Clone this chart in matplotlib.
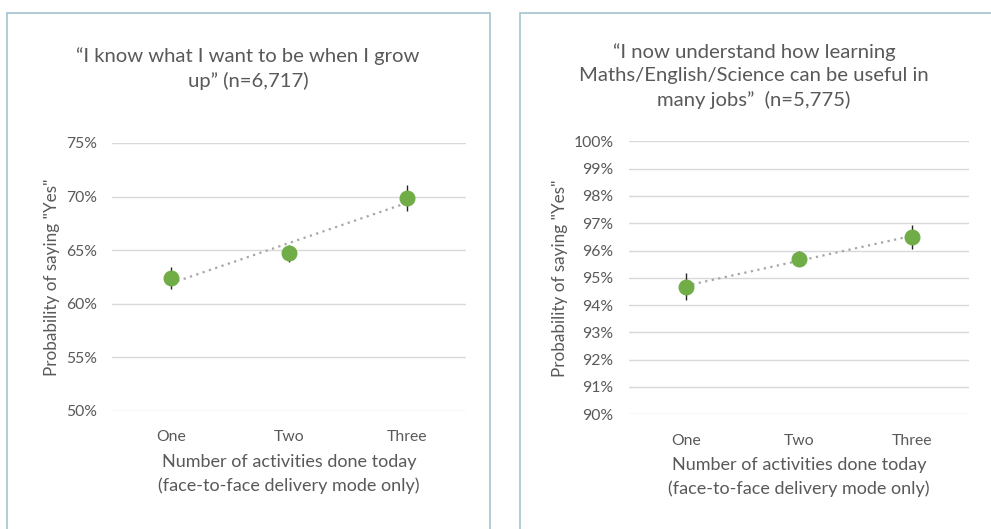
import numpy as np
from matplotlib import pyplot as plt
from matplotlib.patches import Rectangle

plt.rcParams['font.family'] = ['Lato', 'DejaVu Sans']

categories = ['One', 'Two', 'Three']

# left chart: "I know what I want to be when I grow up"
grow_vals = [62.4, 64.7, 69.9]
grow_err = [1.0, 0.8, 1.2]
grow_ticks = [50, 55, 60, 65, 70, 75]

# right chart: "learning ... can be useful in many jobs"
jobs_vals = [94.67, 95.7, 96.5]
jobs_err = [0.5, 0.28, 0.43]
jobs_ticks = [90, 91, 92, 93, 94, 95, 96, 97, 98, 99, 100]

TEXT = '#595959'
GREEN = '#70ad47'
GRID = '#d9d9d9'
BORDER = '#a3c3ce'

W, H = 991, 529
fig = plt.figure(figsize=(W / 100, H / 100), dpi=100)


def px(x0, y0, x1, y1):
    # pixel box (top-left origin) -> figure fraction rect
    return [x0 / W, 1 - y1 / H, (x1 - x0) / W, (y1 - y0) / H]


def draw_panel(rect, title, title_xy, vals, err, ticks):
    ax = fig.add_axes(rect)
    x = np.arange(len(categories))
    # linear trendline, like Excel's
    k, b = np.polyfit(x, vals, 1)
    ax.plot(x, k * x + b, ls=(0, (1, 2)), color='#a6a6a6', lw=1.6, zorder=2)
    ax.errorbar(x, vals, yerr=err, fmt='o', color=GREEN, ms=10.5,
                ecolor='#262626', elinewidth=1, capsize=0, zorder=3)
    ax.set_xlim(-0.5, 2.5)
    ax.set_ylim(ticks[0], ticks[-1])
    ax.set_yticks(ticks)
    ax.set_yticklabels([f'{t}%' for t in ticks])
    ax.set_xticks(x)
    ax.set_xticklabels(categories)
    ax.tick_params(length=0, colors=TEXT, labelsize=11.3)
    ax.tick_params(axis='y', pad=11)
    ax.tick_params(axis='x', pad=14)
    ax.grid(axis='y', color=GRID, lw=1)
    ax.set_axisbelow(True)
    for s in ax.spines.values():
        s.set_visible(False)
    ax.set_ylabel('Probability of saying "Yes"', color=TEXT, fontsize=12.3)
    ax.set_xlabel('Number of activities done today\n(face-to-face delivery mode only)',
                  color=TEXT, fontsize=13, linespacing=1.5, labelpad=7)
    fig.text(title_xy[0] / W, 1 - title_xy[1] / H, title, ha='center', va='top',
             color=TEXT, fontsize=14.6, linespacing=1.45)
    return ax


# panel borders
fig.patches.append(Rectangle((7 / W, -0.1), (490 - 7) / W, 1.1 - 13 / H,
                             transform=fig.transFigure, fill=False, ec=BORDER, lw=1.2))
fig.patches.append(Rectangle((520 / W, -0.1), 0.6, 1.1 - 13 / H,
                             transform=fig.transFigure, fill=False, ec=BORDER, lw=1.2))

draw_panel(px(112, 143, 466, 411),
           '\u201cI know what I want to be when I grow\nup\u201d (n=6,717)',
           (248, 47), grow_vals, grow_err, grow_ticks)
draw_panel(px(629, 141.3, 969, 414.3),
           '\u201cI now understand how learning\nMaths/English/Science can be useful in\nmany jobs\u201d  (n=5,775)',
           (754, 43), jobs_vals, jobs_err, jobs_ticks)

fig.savefig('out.png', dpi=100)
